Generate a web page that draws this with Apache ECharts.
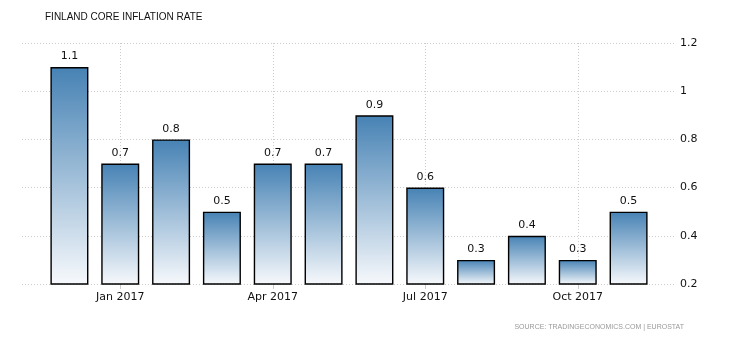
<!DOCTYPE html>
<html><head><meta charset="utf-8">
<script src="https://cdn.jsdelivr.net/npm/echarts@6/dist/echarts.min.js"></script>
<style>html,body{margin:0;padding:0;background:#fff}#c{width:730px;height:340px}</style>
</head><body><div id="c"></div>
<script>
var categories = ['Dec 2016','Jan 2017','Feb 2017','Mar 2017','Apr 2017','May 2017','Jun 2017','Jul 2017','Aug 2017','Sep 2017','Oct 2017','Nov 2017'];
var values = [1.1, 0.7, 0.8, 0.5, 0.7, 0.7, 0.9, 0.6, 0.3, 0.4, 0.3, 0.5];
var labeledMonths = ['Jan 2017','Apr 2017','Jul 2017','Oct 2017'];
var yTicks = [0.2, 0.4, 0.6, 0.8, 1, 1.2];

var font = 'DejaVu Sans';
var showAt = function (i) { return labeledMonths.indexOf(categories[i]) >= 0; };
var chart = echarts.init(document.getElementById('c'));
chart.setOption({
  animation: false,
  title: [{
    text: 'FINLAND CORE INFLATION RATE', left: 40, top: 7,
    textStyle: {fontFamily: 'Liberation Sans', fontSize: 10, fontWeight: 'normal', color: '#111'}
  }, {
    text: 'SOURCE: TRADINGECONOMICS.COM | EUROSTAT', right: 41, top: 319,
    textStyle: {fontFamily: 'Liberation Sans', fontSize: 7, fontWeight: 'normal', color: '#999'}
  }],
  grid: [
    {left: 22, right: 54, top: 43, bottom: 56},
    {left: 44, right: 76, top: 43, bottom: 56}
  ],
  xAxis: [{
    gridIndex: 0, type: 'value', show: false, min: 0, max: 1
  }, {
    gridIndex: 1, type: 'category', data: categories,
    axisLine: {show: false},
    axisTick: {show: true, alignWithLabel: true, interval: showAt, length: 5, lineStyle: {color: '#ccc'}},
    axisLabel: {interval: showAt, margin: 8, fontFamily: font, fontSize: 11, color: '#111'},
    splitLine: {show: true, alignWithLabel: true, interval: showAt, lineStyle: {color: '#ccc', type: [1, 2]}}
  }],
  yAxis: [{
    gridIndex: 0, type: 'value', position: 'right', min: yTicks[0], max: yTicks[yTicks.length - 1], interval: 0.2,
    axisLine: {show: false}, axisTick: {show: false},
    axisLabel: {margin: 4, fontFamily: font, fontSize: 11, color: '#111'},
    splitLine: {show: true, lineStyle: {color: '#ccc', type: [1, 2]}}
  }, {
    gridIndex: 1, type: 'value', show: false, min: yTicks[0], max: yTicks[yTicks.length - 1], interval: 0.2,
    splitLine: {show: false}
  }],
  series: [{
    type: 'bar', xAxisIndex: 1, yAxisIndex: 1, data: values, barWidth: 38,
    itemStyle: {
      borderColor: '#000', borderWidth: 1.4,
      color: new echarts.graphic.LinearGradient(0, 0, 0, 1, [
        {offset: 0, color: '#4682b4'}, {offset: 1, color: '#f7f9fc'}
      ])
    },
    label: {show: true, position: 'top', distance: 5, fontFamily: font, fontSize: 11, color: '#111'}
  }]
});
</script></body></html>
